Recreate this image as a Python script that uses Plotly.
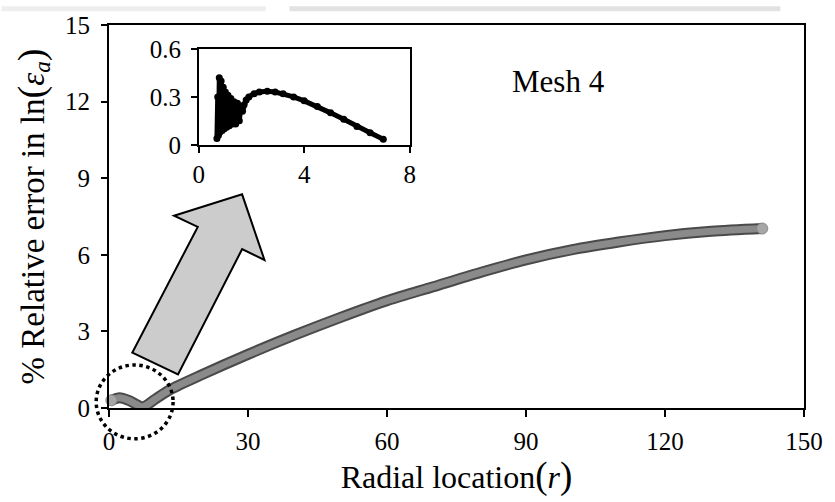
import plotly.graph_objects as go

# Main curve: % relative error in ln(eps_a) along the radius (Mesh 4)
radius = [0.5, 2.3, 4.5, 7.3, 10, 13, 20, 30, 40, 50, 60, 70, 80, 90, 100, 110, 120, 130, 141]
rel_error = [0.30, 0.40, 0.28, 0.05, 0.35, 0.70, 1.30, 2.10, 2.85, 3.55, 4.20, 4.75, 5.30, 5.80, 6.20, 6.50, 6.75, 6.92, 7.03]

# Inset: close-up of the region near the origin
inset_r = [0.69, 0.72, 0.75, 0.78, 0.81, 0.85, 0.89, 0.93, 0.97, 1.01, 1.06, 1.11, 1.16,
           1.22, 1.28, 1.34, 1.40, 1.47, 1.54, 1.60, 1.66, 1.72, 1.80, 1.90, 2.10, 2.30,
           2.60, 2.90, 3.20, 3.60, 4.00, 4.50, 5.00, 5.50, 6.00, 6.50, 7.00]
inset_err = [0.04, 0.30, 0.06, 0.42, 0.08, 0.40, 0.09, 0.36, 0.10, 0.33, 0.11, 0.31, 0.12,
             0.29, 0.13, 0.27, 0.13, 0.26, 0.15, 0.24, 0.21, 0.25, 0.28, 0.30, 0.32, 0.33,
             0.335, 0.33, 0.32, 0.30, 0.275, 0.24, 0.20, 0.16, 0.115, 0.075, 0.035]

main_xticks = [0, 30, 60, 90, 120, 150]
main_yticks = [0, 3, 6, 9, 12, 15]
inset_xticks = [0, 4, 8]
inset_yticks = [0, 0.3, 0.6]

FONT = "Liberation Serif"
W, H = 835, 502
L, R, T, B = 109, 21, 19, 94
PW, PH = W - L - R, H - T - B


def px(x):
    return (x - L) / PW


def py(y):
    return (H - B - y) / PH


fig = go.Figure()

# tube-like curve: dark edge + grey core
fig.add_trace(go.Scatter(x=radius, y=rel_error, mode="lines",
                         line=dict(color="#4a4a4a", width=11, shape="spline", smoothing=0.8),
                         cliponaxis=False, hoverinfo="skip", showlegend=False))
fig.add_trace(go.Scatter(x=radius, y=rel_error, mode="lines",
                         line=dict(color="#8a8a8a", width=7, shape="spline", smoothing=0.8),
                         cliponaxis=False, showlegend=False))
fig.add_trace(go.Scatter(x=[radius[0], radius[-1]], y=[rel_error[0], rel_error[-1]], mode="markers",
                         marker=dict(size=11, color="#a6a6a6", line=dict(color="#8a8a8a", width=1)),
                         cliponaxis=False, showlegend=False))

# inset curve
fig.add_trace(go.Scatter(x=inset_r, y=inset_err, mode="lines+markers",
                         line=dict(color="black", width=5),
                         marker=dict(size=7, color="black"),
                         xaxis="x2", yaxis="y2", showlegend=False))

axis_common = dict(showgrid=False, zeroline=False, showline=True, linecolor="black",
                   mirror=True, ticks="outside", tickcolor="black",
                   tickfont=dict(family=FONT, size=25, color="black"))

fig.update_layout(
    width=W, height=H,
    margin=dict(l=L, r=R, t=T, b=B),
    paper_bgcolor="white", plot_bgcolor="white",
    font=dict(family=FONT, color="black"),
    xaxis=dict(range=[0, 150], tickvals=main_xticks, linewidth=1.8, ticklen=7, tickwidth=1.5,
               ticklabelstandoff=3,
               title=dict(text="Radial location<span style='font-size:37px'>(</span><i>r</i>"
                               "<span style='font-size:37px'>)</span>",
                          font=dict(family=FONT, size=32), standoff=12),
               **axis_common),
    yaxis=dict(range=[0, 15], tickvals=main_yticks, linewidth=1.8, ticklen=6, tickwidth=1.5,
               ticklabelstandoff=6,
               title=dict(text="% Relative error in ln<span style='font-size:38px'>(</span>"
                               "<i>ε</i><sub><i>a</i></sub><span style='font-size:38px'>)</span>",
                          font=dict(family=FONT, size=33), standoff=11),
               **axis_common),
    xaxis2=dict(domain=[px(200), px(414)], anchor="y2", range=[0, 8], tickvals=inset_xticks,
                linewidth=1.5, ticklen=6, tickwidth=1.5, ticklabelstandoff=0, **axis_common),
    yaxis2=dict(domain=[py(140.7), py(43.3)], anchor="x2", range=[0, 0.6], tickvals=inset_yticks,
                linewidth=1.5, ticklen=6, tickwidth=1.5, ticklabelstandoff=5, **axis_common),
)

# faint header band
fig.add_shape(type="rect", xref="paper", yref="paper", x0=px(0), x1=px(268), y0=py(5), y1=py(0),
              fillcolor="#eeeeee", line_width=0, layer="below")
fig.add_shape(type="rect", xref="paper", yref="paper", x0=px(292), x1=px(790), y0=py(5), y1=py(0),
              fillcolor="#e2e2e2", line_width=0, layer="below")

# block arrow pointing from the zoomed region to the inset
arrow = [(132.7, 351.7), (179, 374), (244, 246.7), (266.7, 257.7),
         (244, 191), (175, 212.7), (199, 224)]
path = "M " + " L ".join(f"{px(x):.4f},{py(y):.4f}" for x, y in arrow) + " Z"
fig.add_shape(type="path", xref="paper", yref="paper", path=path,
              fillcolor="#cccccc", line=dict(color="black", width=2))

# dotted ellipse around the near-origin region
fig.add_shape(type="circle", xref="paper", yref="paper",
              x0=px(96), x1=px(174), y0=py(439.3), y1=py(364.3),
              line=dict(color="black", width=3.5, dash="dot"))

fig.add_annotation(text="Mesh 4", xref="paper", yref="paper", x=px(565), y=py(57),
                   showarrow=False, font=dict(family=FONT, size=31, color="black"))

fig.write_html("out.html")
